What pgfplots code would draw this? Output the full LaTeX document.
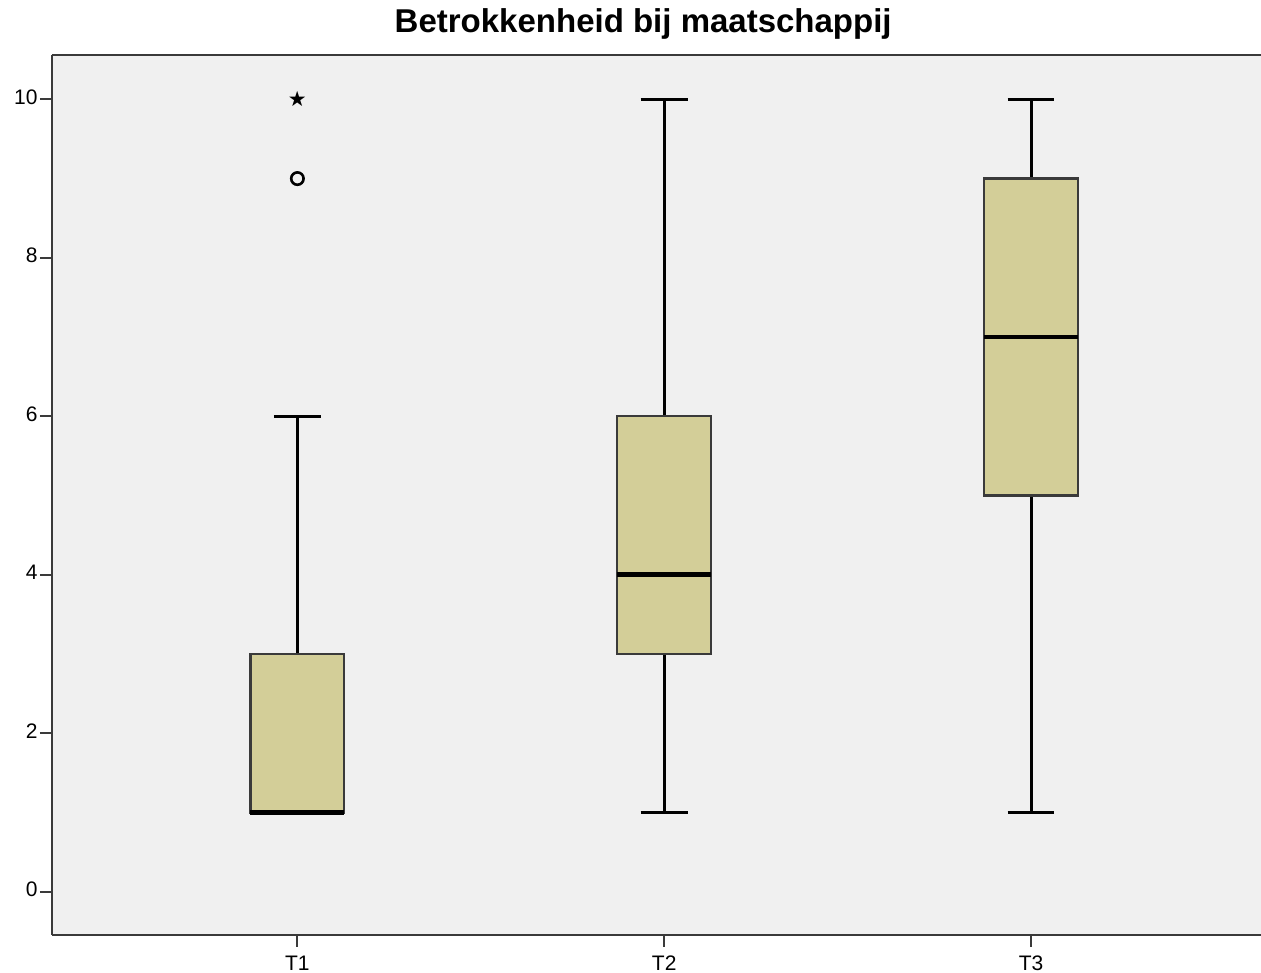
\documentclass[border=0pt]{standalone}
\usepackage{fontspec}
\setmainfont{Liberation Sans}
\newfontfamily\djv{DejaVu Sans}
\usepackage{pgfplots}
\pgfplotsset{compat=1.18}
\usepgfplotslibrary{statistics}
\definecolor{bgc}{HTML}{F0F0F0}
\definecolor{boxc}{HTML}{D3CE98}
\definecolor{edge}{HTML}{3A3A3A}
\begin{document}
\begin{tikzpicture}
\begin{axis}[
  name=ax,
  scale only axis, width=604.5pt, height=440pt,
  xmin=0.331, xmax=3.627, ymin=-0.546, ymax=10.56,
  axis x line=bottom, axis y line=left,
  axis line style={edge, line width=1.2pt, -},
  axis background/.style={fill=bgc},
  xtick={1,2,3}, xticklabels={T1,T2,T3},
  ytick={0,2,4,6,8,10},
  tick align=outside, major tick length=6pt,
  tick style={edge, line width=1pt},
  /pgf/number format/assume math mode=true,
  typeset ticklabels with strut,
  tick label style={font=\fontsize{10.5}{12}\selectfont},
  yticklabel style={inner xsep=1pt},
  title={Betrokkenheid bij maatschappij},
  title style={font=\bfseries\fontsize{16.5}{18}\selectfont, at={(0.489,1)}, anchor=base, yshift=5pt},
  boxplot/draw direction=y,
  boxplot/every box/.style={draw=edge, line width=1.1pt, fill=boxc},
  boxplot/every whisker/.style={black, line width=1.5pt},
  boxplot/every median/.style={black, line width=2.3pt},
]
\addplot[boxplot prepared={lower whisker=1, lower quartile=1, median=1, upper quartile=3, upper whisker=6, draw position=1, box extend=0.256, whisker extend=0.128}] coordinates {};
\addplot[boxplot prepared={lower whisker=1, lower quartile=3, median=4, upper quartile=6, upper whisker=10, draw position=2, box extend=0.256, whisker extend=0.128}] coordinates {};
\addplot[boxplot prepared={lower whisker=1, lower quartile=5, median=7, upper quartile=9, upper whisker=10, draw position=3, box extend=0.256, whisker extend=0.128}] coordinates {};
\addplot[only marks, mark=o, mark size=3.1pt, mark options={line width=1.3pt, black}] coordinates {(1,9)};
\addplot[only marks, mark=text, text mark={\djv\fontsize{10.5}{10.5}\selectfont ★}] coordinates {(1,10)};
\draw[edge, line width=1.2pt] (rel axis cs:0,1) -- (rel axis cs:1,1);
\end{axis}
\pgfresetboundingbox
\path[use as bounding box] ([xshift=-26pt,yshift=-19pt]ax.south west) rectangle ([yshift=27.5pt]ax.north east);
\end{tikzpicture}
\end{document}
